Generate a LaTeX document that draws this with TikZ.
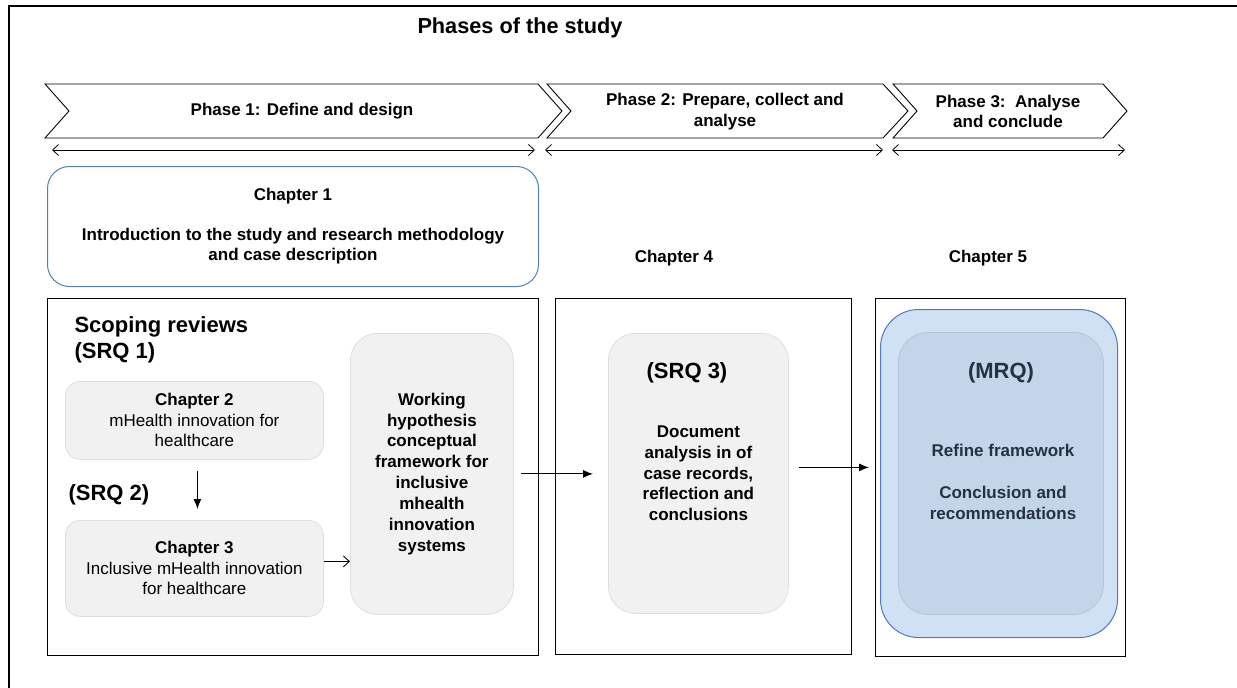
\documentclass[tikz,border=0pt]{standalone}
\usepackage{fontspec}
\setmainfont{Liberation Sans}
\usetikzlibrary{arrows.meta}
\definecolor{gfill}{RGB}{241,241,241}
\definecolor{gline}{RGB}{222,222,222}
\definecolor{c1line}{RGB}{84,128,168}
\definecolor{mouterfill}{RGB}{207,225,242}
\definecolor{mouterline}{RGB}{76,120,200}
\definecolor{minnerfill}{RGB}{195,213,232}
\definecolor{minnerline}{RGB}{178,197,217}
\definecolor{mtext}{RGB}{36,50,66}
\begin{document}
\begin{tikzpicture}[x=1pt,y=-1pt,
 frame/.style={draw, line width=1.3pt, inner sep=0pt, anchor=north west},
 chev/.style={draw, line width=0.9pt, line join=miter},
 graybox/.style={draw=gline, fill=gfill, line width=0.8pt, anchor=north west, align=center, inner sep=0pt},
 bt/.style={font=\fontsize{17}{20.5}\selectfont\bfseries, align=center},
 big/.style={font=\fontsize{22}{26}\selectfont\bfseries},
 dbl/.style={{Straight Barb[length=6pt,width=11pt]}-{Straight Barb[length=6pt,width=11pt]}, line width=0.8pt},
 fa/.style={-{Latex[length=10pt,width=8pt]}, line width=1pt},
 oa/.style={-{Straight Barb[length=6pt,width=11pt]}, line width=0.9pt},
]
\useasboundingbox (0,0) rectangle (1237,688);
% outer frame
\draw[line width=1.6pt] (9,688) -- (9,6) -- (1237,6);
% title
\node[font=\fontsize{21.7}{26}\selectfont\bfseries] (title) at (520,28) {Phases of the study};
% chevrons
\draw[chev] (45,84) -- (538,84) -- (562,111) -- (538,138) -- (45,138) -- (69,111) -- cycle;
\draw[chev] (547,84) -- (883,84) -- (908,111) -- (883,138) -- (547,138) -- (571,111) -- cycle;
\draw[chev] (893,84) -- (1103,84) -- (1127,111) -- (1103,138) -- (893,138) -- (917,111) -- cycle;
\node[bt] (p1) at (302,111) {Phase 1: Define and design};
\node[bt] (p2) at (725,111.5) {Phase 2: Prepare, collect and\\analyse};
\node[bt] (p3) at (1008,111.5) {Phase 3:\ \ Analyse\\and conclude};
% double arrows
\coordinate (a1l) at (52,150); \coordinate (a1r) at (535,150);
\coordinate (a2l) at (545,150); \coordinate (a2r) at (883,150);
\coordinate (a3l) at (892,150); \coordinate (a3r) at (1125,150);
\draw[dbl] (a1l) -- (a1r);
\draw[dbl] (a2l) -- (a2r);
\draw[dbl] (a3l) -- (a3r);
% chapter 1
\node[draw=c1line, line width=1pt, rounded corners=22pt, minimum width=491pt, minimum height=120pt, anchor=north west, bt] (ch1) at (47,166) {Chapter 1\\[19pt]Introduction to the study and research methodology\\and case description};
\node[bt] (c4) at (674,258) {Chapter 4};
\node[bt] (c5) at (988,258) {Chapter 5};
% frames
\node[frame, minimum width=491pt, minimum height=357pt] (boxA) at (47,298) {};
\node[frame, minimum width=296pt, minimum height=356pt] (boxB) at (555,298) {};
\node[frame, minimum width=250pt, minimum height=358pt] (boxC) at (875,298) {};
% box A content
\node[big, anchor=west] (scop) at (71,327) {Scoping reviews};
\node[big, anchor=west] (srq1) at (71,353) {(SRQ 1)};
\node[big, anchor=west] (srq2) at (65,495) {(SRQ 2)};
\node[graybox, rounded corners=15pt, minimum width=258pt, minimum height=78pt, font=\fontsize{17}{20.5}\selectfont] (ch2) at (65,381) {\textbf{Chapter 2}\\mHealth innovation for\\healthcare};
\node[graybox, rounded corners=15pt, minimum width=258pt, minimum height=96pt, font=\fontsize{17}{20.5}\selectfont] (ch3) at (65,520) {\textbf{Chapter 3}\\Inclusive mHealth innovation\\for healthcare};
\node[graybox, rounded corners=27pt, minimum width=163pt, minimum height=281pt, font=\fontsize{17}{20.9}\selectfont\bfseries] (wh) at (350,333) {Working\\hypothesis\\conceptual\\framework for\\inclusive\\mhealth\\innovation\\systems};
% box B content
\node[graybox, rounded corners=27pt, minimum width=180pt, minimum height=280pt, font=\fontsize{17}{20.8}\selectfont\bfseries] (srqbox) at (608,333) {Document\\analysis in of\\case records,\\reflection and\\conclusions};
\node[big] (srq3) at (687,373) {(SRQ 3)};
% box C content
\node[draw=mouterline, fill=mouterfill, line width=1pt, rounded corners=38pt, minimum width=237pt, minimum height=328pt, anchor=north west] (mout) at (880,309) {};
\node[draw=minnerline, fill=minnerfill, line width=0.8pt, rounded corners=30pt, minimum width=205pt, minimum height=282pt, anchor=north west] (minn) at (898,332) {};
\node[big, text=mtext] (mrq) at (1001,373) {(MRQ)};
\node[font=\fontsize{17}{21}\selectfont\bfseries, align=center, text=mtext] (mtxt) at (1003,481.5) {Refine framework\\[21pt]Conclusion and\\recommendations};
% connectors
\draw[fa, shorten <=11pt, shorten >=11pt] ([xshift=3pt]ch2.south) -- ([xshift=3pt]ch3.north);
\draw[oa] ([yshift=7pt]ch3.east) -- ([yshift=7pt]ch3.east -| wh.west);
\draw[fa, shorten <=7pt, shorten >=15pt] (wh.east) -- (wh.east -| srqbox.west);
\draw[fa, shorten <=10pt, shorten >=11pt] ([yshift=6pt]srqbox.east) -- ([yshift=6pt]srqbox.east -| mout.west);
\end{tikzpicture}
\end{document}
